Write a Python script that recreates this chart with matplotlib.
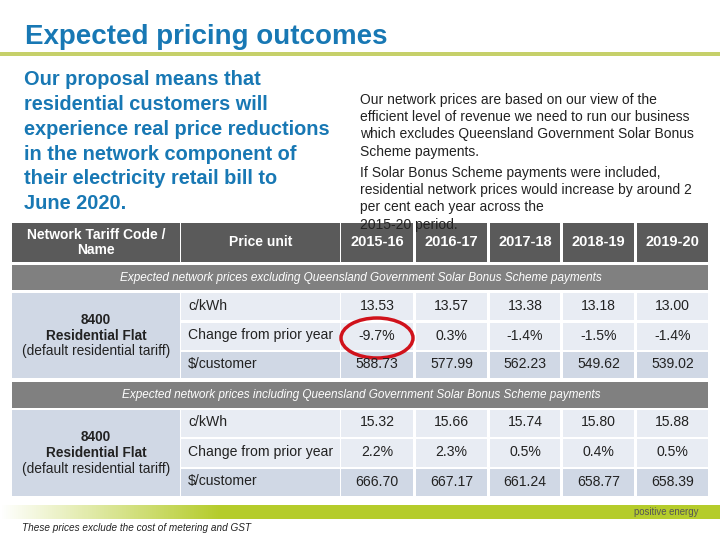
import numpy as np
import matplotlib
matplotlib.use("Agg")
import matplotlib.pyplot as plt
from matplotlib.patches import Rectangle, Ellipse

plt.rcParams["font.family"] = ["Liberation Sans", "DejaVu Sans"]

title = "Expected pricing outcomes"
intro = ("Our proposal means that\nresidential customers will\nexperience real price reductions\n"
         "in the network component of\ntheir electricity retail bill to\nJune 2020.")
note1 = ("Our network prices are based on our view of the\nefficient level of revenue we need to run our business\n"
         "which excludes Queensland Government Solar Bonus\nScheme payments.")
note2 = ("If Solar Bonus Scheme payments were included,\nresidential network prices would increase by around 2\n"
         "per cent each year across the\n2015-20 period.")

years = ["2015-16", "2016-17", "2017-18", "2018-19", "2019-20"]
units = ["c/kWh", "Change from prior year", "$/customer"]
tariff = ("8400", "Residential Flat", "(default residential tariff)")

excl_kwh = [13.53, 13.57, 13.38, 13.18, 13.00]
excl_change = [-9.7, 0.3, -1.4, -1.5, -1.4]
excl_cust = [588.73, 577.99, 562.23, 549.62, 539.02]

incl_kwh = [15.32, 15.66, 15.74, 15.80, 15.88]
incl_change = [2.2, 2.3, 0.5, 0.4, 0.5]
incl_cust = [666.70, 667.17, 661.24, 658.77, 658.39]

sections = [
    ("Expected network prices excluding Queensland Government Solar Bonus Scheme payments",
     excl_kwh, excl_change, excl_cust),
    ("Expected network prices including Queensland Government Solar Bonus Scheme payments",
     incl_kwh, incl_change, incl_cust),
]

BLUE = "#1878b4"
HEAD = "#5a5a5a"
SUB = "#808080"
LIGHT = "#e8ecf3"
DARK = "#d0d8e5"
TXT = "#222222"

fig = plt.figure(figsize=(7.2, 5.4), dpi=100)
ax = fig.add_axes([0, 0, 1, 1])
ax.set_xlim(0, 720)
ax.set_ylim(540, 0)
ax.axis("off")

# title and rule
ax.text(25, 37, title, color=BLUE, fontsize=20, fontweight="bold", va="center")
ax.add_patch(Rectangle((0, 52), 720, 4, color="#c6d06a", lw=0))

# left intro text
ax.text(24, 70, intro, color=BLUE, fontsize=14.4, fontweight="bold", va="top",
        linespacing=1.39)

# right notes
ax.text(360, 93, note1, color=TXT, fontsize=10, va="top", linespacing=1.29)
ax.text(360, 166, note2, color=TXT, fontsize=10, va="top", linespacing=1.29)

# table geometry
col1 = (12, 180)
col2 = (181, 340)
ycols = [(341, 413), (416, 487), (490, 560), (563, 634), (637, 708)]


def cell(x0, x1, y0, y1, color):
    ax.add_patch(Rectangle((x0, y0), x1 - x0, y1 - y0, color=color, lw=0))


# header
hy = (223, 262)
cell(*col1, *hy, HEAD)
cell(*col2, *hy, HEAD)
for (x0, x1), yr in zip(ycols, years):
    cell(x0, x1, *hy, HEAD)
    ax.text((x0 + x1) / 2, sum(hy) / 2, yr, color="white", fontsize=10.5,
            fontweight="bold", ha="center", va="center")
ax.text(sum(col1) / 2, sum(hy) / 2, "Network Tariff Code /\nName", color="white",
        fontsize=10, fontweight="bold", ha="center", va="center", linespacing=1.1)
ax.text(sum(col2) / 2, sum(hy) / 2, "Price unit", color="white", fontsize=10,
        fontweight="bold", ha="center", va="center")

blocks = [
    ((265, 290), [(293, 320), (323, 350), (352, 378)]),
    ((382, 408), [(410, 437), (439, 467), (469, 496)]),
]

for (label, kwh, chg, cust), (sy, rows) in zip(sections, blocks):
    cell(col1[0], ycols[-1][1], *sy, SUB)
    ax.text(361, sum(sy) / 2, label, color="white", fontsize=8.5, style="italic",
            ha="center", va="center")
    # merged tariff cell
    cell(col1[0], col1[1], rows[0][0], rows[-1][1], DARK)
    yc = (rows[0][0] + rows[-1][1]) / 2
    ax.text(sum(col1) / 2, yc - 16, tariff[0], color=TXT, fontsize=9.8,
            fontweight="bold", ha="center", va="center")
    ax.text(sum(col1) / 2, yc, tariff[1], color=TXT, fontsize=9.8,
            fontweight="bold", ha="center", va="center")
    ax.text(sum(col1) / 2, yc + 16, tariff[2], color=TXT, fontsize=9.9,
            ha="center", va="center")
    vals = [[f"{v:.2f}" for v in kwh],
            [f"{v:.1f}%" for v in chg],
            [f"{v:.2f}" for v in cust]]
    for i, ((y0, y1), unit, rv) in enumerate(zip(rows, units, vals)):
        c = DARK if i == 2 else LIGHT
        cell(col2[0], col2[1], y0, y1, c)
        ax.text(col2[0] + 7, (y0 + y1) / 2 - 1, unit, color=TXT, fontsize=10.1,
                va="center")
        for (x0, x1), v in zip(ycols, rv):
            cell(x0, x1, y0, y1, c)
            ax.text((x0 + x1) / 2, (y0 + y1) / 2 - 1, v, color=TXT, fontsize=10.1,
                    ha="center", va="center")

# highlight circle
ax.add_patch(Ellipse((377, 338), 72, 40, fill=False, ec="#d0121b", lw=2.5))

# footer gradient bar
grad = np.ones((1, 360, 4))
green = np.array([0.71, 0.80, 0.17])
t = np.clip(np.linspace(0, 720, 360) / 220, 0, 1)
grad[0, :, :3] = (1 - t)[:, None] * 1.0 + t[:, None] * green
ax.imshow(grad, extent=(0, 720, 519, 505), aspect="auto", zorder=1)
ax.text(698, 512, "positive energy", color="#555555", fontsize=6.9, ha="right",
        va="center", zorder=2)
ax.text(22, 528, "These prices exclude the cost of metering and GST", color=TXT,
        fontsize=7.2, style="italic", va="center")

ax.set_xlim(0, 720)
ax.set_ylim(540, 0)
fig.savefig("out.png", dpi=100)
